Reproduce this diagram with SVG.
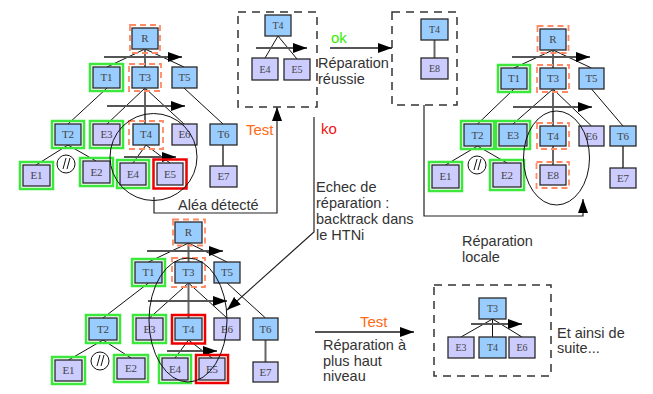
<svg xmlns="http://www.w3.org/2000/svg" width="653" height="394" viewBox="0 0 653 394">
<defs>
<marker id="ah" markerUnits="userSpaceOnUse" markerWidth="14" markerHeight="10" refX="14" refY="5" orient="auto">
<path d="M0,0 L14,5 L0,10 z" fill="#000"/>
</marker>
<style>
.t{fill:#99ccff;stroke:#2a2a2a;stroke-width:1.3}
.e{fill:#ccccff;stroke:#2a2a2a;stroke-width:1.3}
.g{fill:none;stroke:#3de83d;stroke-width:2.5}
.r{fill:none;stroke:#ee0000;stroke-width:2.5}
.o{fill:none;stroke:#ff8a65;stroke-width:1.8;stroke-dasharray:6 4}
.n{font-family:"Liberation Serif","DejaVu Serif",serif;font-size:11px;fill:#444;text-anchor:middle}
.ns{font-family:"Liberation Serif","DejaVu Serif",serif;font-size:10px;fill:#444;text-anchor:middle}
.ln{stroke:#111;stroke-width:1;fill:none}
.vg{stroke:#666;stroke-width:2;fill:none}
.ar{stroke:#555;stroke-width:2;fill:none;marker-end:url(#ah)}
.big{stroke:#222;stroke-width:1.2;fill:none;marker-end:url(#ah)}
.db{fill:none;stroke:#333;stroke-width:1.5;stroke-dasharray:8 6}
.tx{font-family:"Liberation Sans",Arial,sans-serif;font-size:14.5px;fill:#333}
.ts{font-family:"Liberation Sans",Arial,sans-serif;font-size:15px}
.ov{fill:none;stroke:#111;stroke-width:1}
</style>
</defs>
<rect width="653" height="394" fill="#fff"/>

<g id="connectors">
<!-- top-left tree -->
<path class="ln" d="M145,49 L107,67 M145,49 L184,67 M107,88 L68,124 M145,88 L107,124 M145,88 L184,124 M184,88 L223,124 M68,145 L36,165 M68,145 L96,161 M146,145 L133,163 M146,145 L170,163"/>
<path class="vg" d="M145,49 V67 M145,88 V124 M223,145 V166"/>
<path class="ar" d="M104,57 H182"/>
<path class="ar" d="M107,106 H185"/>
<path class="ar" d="M124,157 H176"/>
<!-- top middle -->
<path class="ln" d="M278,36 L265,58 M278,36 L297,59"/>
<path class="ar" d="M256,48 H307"/>
<path class="vg" d="M434.5,40 V58"/>
<path class="ar" d="M330,48 H392"/>
<!-- top-right tree -->
<path class="ln" d="M553,50 L514,68 M553,50 L591.5,68 M514,89 L477.5,124 M553,89 L513,124 M553,89 L591.5,126 M591.5,89 L623,126 M477.5,146 L445.5,165 M477.5,146 L507,163"/>
<path class="vg" d="M553,50 V68 M553,89 V126 M553,146 V165 M623,146 V168"/>
<path class="ar" d="M512,57 H590"/>
<path class="ar" d="M513,107 H592"/>
<!-- bottom-left tree -->
<path class="ln" d="M188.5,243 L148.5,262 M188.5,243 L227,262 M148.5,283 L103,318 M188.5,283 L149.5,318 M188.5,283 L227,318 M227,283 L265.5,318 M103,340 L68.5,360 M103,340 L131,358 M188.5,340 L175,358 M188.5,340 L212,358"/>
<path class="vg" d="M188.5,243 V262 M188.5,283 V318 M265.5,340 V362"/>
<path class="ar" d="M147,251 H223"/>
<path class="ar" d="M148,301 H227"/>
<path class="ar" d="M167,351 H217"/>
<!-- bottom right -->
<path class="ln" d="M492.5,319 L461,337 M492.5,319 V337 M492.5,319 L522,337"/>
<path class="ar" d="M471,324 H522"/>
<path class="ar" d="M315,332 H414"/>
<!-- flow connectors -->
<path class="big" d="M154,197 V213 H277 V107"/>
<path class="big" d="M314,117 V232 L227,310"/>
<path class="big" d="M424,105 V216 H583 V199"/>
</g>

<!-- dashed boxes -->
<g id="box-test1"><rect class="db" x="238" y="12" width="79" height="95"/></g>
<g id="box-repair"><rect class="db" x="392" y="12" width="65" height="93"/></g>
<g id="box-next"><rect class="db" x="434" y="285" width="117" height="91"/></g>

<!-- top-left tree -->
<g id="tl-R"><rect class="o" x="130" y="25" width="30" height="28"/><rect class="t" x="132" y="28" width="26" height="21"/><text class="n" x="145" y="42">R</text></g>
<g id="tl-T1"><rect class="g" x="90" y="64" width="33" height="27"/><rect class="t" x="93" y="67" width="27" height="21"/><text class="n" x="106.5" y="81">T1</text></g>
<g id="tl-T3"><rect class="o" x="129" y="64" width="32" height="27"/><rect class="t" x="132" y="67" width="26" height="21"/><text class="n" x="145" y="81">T3</text></g>
<g id="tl-T5"><rect class="t" x="172" y="67" width="25" height="21"/><text class="n" x="184.5" y="81">T5</text></g>
<g id="tl-T2"><rect class="g" x="52" y="121" width="32" height="27"/><rect class="t" x="55" y="124" width="26" height="21"/><text class="n" x="68" y="138">T2</text></g>
<g id="tl-E3"><rect class="g" x="90" y="121" width="33" height="27"/><rect class="e" x="93" y="124" width="27" height="21"/><text class="n" x="106.5" y="138">E3</text></g>
<g id="tl-T4"><rect class="o" x="129" y="121" width="34" height="28"/><rect class="t" x="133" y="124" width="26" height="21"/><text class="n" x="146" y="138">T4</text></g>
<g id="tl-E6"><rect class="e" x="172" y="124" width="25" height="21"/><text class="n" x="184.5" y="138">E6</text></g>
<g id="tl-T6"><rect class="t" x="210" y="124" width="27" height="21"/><text class="n" x="223.5" y="138">T6</text></g>
<g id="tl-E1"><rect class="g" x="20" y="162" width="33" height="27"/><rect class="e" x="23" y="165" width="27" height="21"/><text class="n" x="36.5" y="179">E1</text></g>
<g id="tl-E2"><rect class="g" x="80" y="158" width="33" height="28"/><rect class="e" x="83" y="161" width="27" height="22"/><text class="n" x="96.5" y="176">E2</text></g>
<g id="tl-E4"><rect class="g" x="117" y="160" width="32" height="28"/><rect class="e" x="120" y="163" width="26" height="22"/><text class="n" x="133" y="178">E4</text></g>
<g id="tl-E5"><rect class="r" x="153.5" y="159.5" width="33" height="29"/><rect class="e" x="157" y="163" width="26" height="22"/><text class="n" x="170" y="178">E5</text></g>
<g id="tl-E7"><rect class="e" x="210" y="166" width="27" height="21"/><text class="n" x="223.5" y="180">E7</text></g>

<!-- top middle -->
<g id="tm-T4"><rect class="t" x="265" y="15" width="26" height="21"/><text class="ns" x="278" y="29">T4</text></g>
<g id="tm-E4"><rect class="e" x="252" y="58" width="26" height="22"/><text class="ns" x="265" y="73">E4</text></g>
<g id="tm-E5"><rect class="e" x="284" y="59" width="26" height="21"/><text class="ns" x="297" y="73">E5</text></g>
<g id="tr2-T4"><rect class="t" x="421" y="19" width="27" height="21"/><text class="ns" x="434.5" y="33">T4</text></g>
<g id="tr2-E8"><rect class="e" x="421" y="58" width="27" height="21"/><text class="ns" x="434.5" y="72">E8</text></g>

<!-- top-right tree -->
<g id="tr-R"><rect class="o" x="537.5" y="26" width="31" height="27"/><rect class="t" x="540" y="29" width="26" height="21"/><text class="n" x="553" y="43">R</text></g>
<g id="tr-T1"><rect class="g" x="498" y="65" width="32" height="27"/><rect class="t" x="501" y="68" width="26" height="21"/><text class="n" x="514" y="82">T1</text></g>
<g id="tr-T3"><rect class="o" x="537" y="65" width="32" height="27"/><rect class="t" x="540" y="68" width="26" height="21"/><text class="n" x="553" y="82">T3</text></g>
<g id="tr-T5"><rect class="t" x="579" y="68" width="25" height="21"/><text class="n" x="591.5" y="82">T5</text></g>
<g id="tr-T2"><rect class="g" x="461" y="121" width="33" height="28"/><rect class="t" x="464" y="124" width="27" height="22"/><text class="n" x="477.5" y="139">T2</text></g>
<g id="tr-E3"><rect class="g" x="496" y="121" width="34" height="28"/><rect class="t" x="499" y="124" width="28" height="22"/><text class="n" x="513" y="139">E3</text></g>
<g id="tr-T4"><rect class="o" x="537" y="123" width="32" height="26"/><rect class="t" x="540" y="126" width="26" height="20"/><text class="n" x="553" y="140">T4</text></g>
<g id="tr-E6"><rect class="e" x="579" y="126" width="25" height="20"/><text class="n" x="591.5" y="140">E6</text></g>
<g id="tr-T6"><rect class="t" x="610" y="126" width="26" height="20"/><text class="n" x="623" y="140">T6</text></g>
<g id="tr-E8"><rect class="o" x="536.5" y="162" width="32.5" height="26"/><rect class="e" x="540" y="165" width="26" height="20"/><text class="n" x="553" y="179">E8</text></g>
<g id="tr-E7"><rect class="e" x="610" y="168" width="26" height="20"/><text class="n" x="623" y="182">E7</text></g>
<g id="tr-E1"><rect class="g" x="429" y="162" width="33" height="29"/><rect class="e" x="432" y="165" width="27" height="23"/><text class="n" x="445.5" y="180">E1</text></g>
<g id="tr-E2"><rect class="g" x="490" y="160" width="34" height="30"/><rect class="e" x="493" y="163" width="28" height="24"/><text class="n" x="507" y="179">E2</text></g>

<!-- bottom-left tree -->
<g id="bl-R"><rect class="o" x="173" y="219.5" width="32" height="26"/><rect class="t" x="175" y="222" width="27" height="21"/><text class="n" x="188.5" y="236">R</text></g>
<g id="bl-T1"><rect class="g" x="132" y="259" width="33" height="27"/><rect class="t" x="135" y="262" width="27" height="21"/><text class="n" x="148.5" y="276">T1</text></g>
<g id="bl-T3"><rect class="o" x="172" y="258" width="33" height="29"/><rect class="t" x="175" y="262" width="27" height="21"/><text class="n" x="188.5" y="276">T3</text></g>
<g id="bl-T5"><rect class="t" x="214" y="262" width="26" height="21"/><text class="n" x="227" y="276">T5</text></g>
<g id="bl-T2"><rect class="g" x="86" y="315" width="34" height="28"/><rect class="t" x="89" y="318" width="28" height="22"/><text class="n" x="103" y="333">T2</text></g>
<g id="bl-E3"><rect class="g" x="133" y="315" width="33" height="28"/><rect class="e" x="136" y="318" width="27" height="22"/><text class="n" x="149.5" y="333">E3</text></g>
<g id="bl-T4"><rect class="r" x="172" y="315" width="33" height="28.5"/><rect class="t" x="175" y="318" width="27" height="22"/><text class="n" x="188.5" y="333">T4</text></g>
<g id="bl-E6"><rect class="e" x="214" y="318" width="26" height="22"/><text class="n" x="227" y="333">E6</text></g>
<g id="bl-T6"><rect class="t" x="253" y="318" width="25" height="22"/><text class="n" x="265.5" y="333">T6</text></g>
<g id="bl-E1"><rect class="g" x="52" y="357" width="33" height="27"/><rect class="e" x="55" y="360" width="27" height="21"/><text class="n" x="68.5" y="374">E1</text></g>
<g id="bl-E2"><rect class="g" x="114" y="355" width="34" height="27"/><rect class="e" x="117" y="358" width="28" height="21"/><text class="n" x="131" y="372">E2</text></g>
<g id="bl-E4"><rect class="g" x="159" y="355" width="32" height="28"/><rect class="e" x="162" y="358" width="26" height="22"/><text class="n" x="175" y="373">E4</text></g>
<g id="bl-E5"><rect class="r" x="196" y="355" width="32" height="28"/><rect class="e" x="199" y="358" width="26" height="22"/><text class="n" x="212" y="373">E5</text></g>
<g id="bl-E7"><rect class="e" x="253" y="362" width="25" height="20"/><text class="n" x="265.5" y="376">E7</text></g>

<!-- bottom right -->
<g id="br-T3"><rect class="t" x="479" y="298" width="27" height="21"/><text class="ns" x="492.5" y="312">T3</text></g>
<g id="br-E3"><rect class="e" x="448" y="337" width="26" height="21"/><text class="ns" x="461" y="351">E3</text></g>
<g id="br-T4"><rect class="t" x="479" y="337" width="27" height="21"/><text class="ns" x="492.5" y="351">T4</text></g>
<g id="br-E6"><rect class="e" x="509" y="337" width="26" height="21"/><text class="ns" x="522" y="351">E6</text></g>

<!-- circles and ellipses -->
<g id="marks">
<circle class="ov" cx="153.5" cy="157" r="43.5"/>
<ellipse class="ov" cx="556.5" cy="158" rx="33" ry="47"/>
<ellipse class="ov" cx="188" cy="320" rx="39" ry="62"/>
<g id="tl-par"><circle class="ov" cx="66" cy="164" r="9"/><path class="ln" d="M63,169 L66,158 M67,169 L70,158"/></g>
<g id="tr-par"><circle class="ov" cx="477" cy="165" r="9"/><path class="ln" d="M474,170 L477,159 M478,170 L481,159"/></g>
<g id="bl-par"><circle class="ov" cx="100" cy="361" r="9"/><path class="ln" d="M97,366 L100,355 M101,366 L104,355"/></g>
</g>

<!-- labels -->
<g id="labels">
<text class="tx" x="178" y="210">Aléa détecté</text>
<text class="ts" x="246" y="135" fill="#ff6a13">Test</text>
<text class="ts" x="321" y="134" fill="#ee1111">ko</text>
<text class="ts" x="331" y="43" fill="#33ee00">ok</text>
<text class="tx" x="318" y="68">Réparation</text>
<text class="tx" x="318" y="84">réussie</text>
<text class="tx" x="316" y="192">Echec de</text>
<text class="tx" x="316" y="208">réparation :</text>
<text class="tx" x="316" y="224">backtrack dans</text>
<text class="tx" x="316" y="240">le HTNi</text>
<text class="tx" x="462" y="246">Réparation</text>
<text class="tx" x="462" y="262">locale</text>
<text class="ts" x="360" y="327" fill="#ff6a13">Test</text>
<text class="tx" x="323" y="350">Réparation à</text>
<text class="tx" x="323" y="366">plus haut</text>
<text class="tx" x="323" y="381">niveau</text>
<text class="tx" x="557" y="338">Et ainsi de</text>
<text class="tx" x="557" y="353">suite...</text>
</g>
</svg>
